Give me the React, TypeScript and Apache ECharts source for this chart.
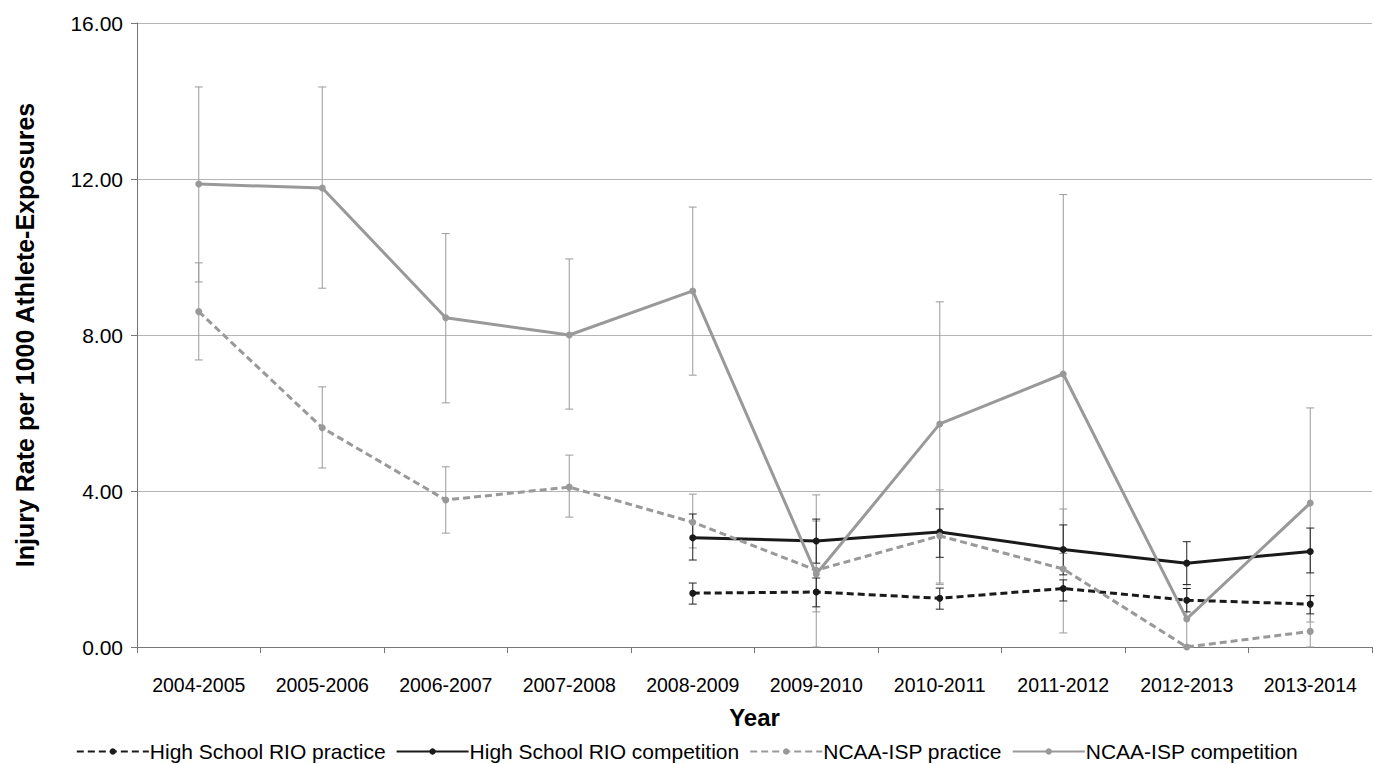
import React, { useEffect, useRef } from "react";
import * as echarts from "echarts";

const years = ["2004-2005","2005-2006","2006-2007","2007-2008","2008-2009","2009-2010","2010-2011","2011-2012","2012-2013","2013-2014"];
const yTicks = [0, 4, 8, 12, 16];
const hsPractice = [null,null,null,null,1.38,1.41,1.25,1.5,1.2,1.1];
const hsPracticeLo = [null,null,null,null,1.1,1.03,0.97,1.18,0.9,0.85];
const hsPracticeHi = [null,null,null,null,1.64,1.77,1.51,1.72,1.5,1.32];
const hsComp = [null,null,null,null,2.8,2.72,2.95,2.5,2.15,2.45];
const hsCompLo = [null,null,null,null,2.23,2.15,2.3,1.85,1.6,1.9];
const hsCompHi = [null,null,null,null,3.41,3.28,3.54,3.13,2.7,3.05];
const ncaaPractice = [8.6,5.62,3.77,4.1,3.2,1.97,2.85,2.0,0,0.4];
const ncaaPracticeLo = [7.36,4.59,2.92,3.33,2.54,0.9,1.6,0.36,0,0];
const ncaaPracticeHi = [9.85,6.67,4.62,4.92,3.92,3.23,4.03,3.54,0.05,1.3];
const ncaaComp = [11.87,11.77,8.44,8.0,9.13,1.87,5.72,7.0,0.72,3.69];
const ncaaCompLo = [9.36,9.2,6.26,6.1,6.97,0,1.64,2.4,0,0.64];
const ncaaCompHi = [14.36,14.36,10.6,9.95,11.28,3.9,8.85,11.6,1.6,6.13];

const errData = (lo: (number|null)[], hi: (number|null)[]) =>
  lo.map((l, i) => (l == null ? null : [i, l, hi[i]])).filter(Boolean) as number[][];

const errSeries = (lo: (number|null)[], hi: (number|null)[], color: string) => ({
  type: "custom",
  silent: true,
  z: 1,
  data: errData(lo, hi),
  renderItem: (params: any, api: any) => {
    const a = api.coord([api.value(0), api.value(1)]);
    const b = api.coord([api.value(0), api.value(2)]);
    const st = { stroke: color, lineWidth: 1 };
    const w = 4;
    return {
      type: "group",
      children: [
        { type: "line", shape: { x1: a[0], y1: a[1], x2: b[0], y2: b[1] }, style: st },
        { type: "line", shape: { x1: a[0] - w, y1: a[1], x2: a[0] + w, y2: a[1] }, style: st },
        { type: "line", shape: { x1: b[0] - w, y1: b[1], x2: b[0] + w, y2: b[1] }, style: st },
      ],
    };
  },
});

const lineSeries = (name: string, data: (number|null)[], color: string, dashed: boolean) => ({
  name, type: "line", data, symbol: "circle", symbolSize: 7, z: 3,
  itemStyle: { color },
  lineStyle: { color, width: 3, type: dashed ? [7, 4] : "solid" },
});

export default function App() {
  const ref = useRef<HTMLDivElement>(null);
  useEffect(() => {
    const chart = echarts.init(ref.current!, null, { renderer: "svg" });
    const font = "'Liberation Sans', Arial, sans-serif";
    chart.setOption({
      animation: false,
      textStyle: { fontFamily: font },
      grid: { left: 137, right: 2, top: 23, bottom: 117, outerBoundsMode: "none", containLabel: false },
      legend: {
        bottom: -3, itemGap: 10, itemWidth: 72, itemHeight: 8,
        textStyle: { fontSize: 21, color: "#000", fontFamily: font, padding: [0, 0, 0, -4] },
        data: ["High School RIO practice","High School RIO competition","NCAA-ISP practice","NCAA-ISP competition"],
      },
      xAxis: {
        type: "category", data: years, name: "Year", nameLocation: "middle", nameGap: 58,
        nameTextStyle: { fontSize: 24, fontWeight: "bold", color: "#000" },
        axisLine: { lineStyle: { color: "#777" } },
        axisTick: { show: true, length: 6, lineStyle: { color: "#777" } },
        axisLabel: { fontSize: 19.5, color: "#000", margin: 28, interval: 0, hideOverlap: false },
      },
      yAxis: {
        type: "value", min: 0, max: 16, interval: 4,
        name: "Injury Rate per 1000 Athlete-Exposures", nameLocation: "middle", nameGap: 100,
        nameTextStyle: { fontSize: 25, fontWeight: "bold", color: "#000" },
        axisLine: { show: true, lineStyle: { color: "#777" } },
        axisTick: { show: true, length: 6, lineStyle: { color: "#777" } },
        axisLabel: { fontSize: 21, color: "#000", margin: 14, formatter: (v: number) => yTicks.includes(v) ? v.toFixed(2) : "" },
        splitLine: { lineStyle: { color: "#b5b5b5" } },
      },
      series: [
        errSeries(ncaaCompLo, ncaaCompHi, "#9a9a9a"),
        errSeries(ncaaPracticeLo, ncaaPracticeHi, "#9a9a9a"),
        errSeries(hsCompLo, hsCompHi, "#222"),
        errSeries(hsPracticeLo, hsPracticeHi, "#222"),
        lineSeries("High School RIO practice", hsPractice, "#1a1a1a", true),
        lineSeries("High School RIO competition", hsComp, "#1a1a1a", false),
        lineSeries("NCAA-ISP practice", ncaaPractice, "#999", true),
        lineSeries("NCAA-ISP competition", ncaaComp, "#999", false),
      ],
    });
    return () => chart.dispose();
  }, []);
  return <div ref={ref} style={{ width: 1374, height: 764, position: "absolute", left: 0, top: 0, background: "#fff" }} />;
}
